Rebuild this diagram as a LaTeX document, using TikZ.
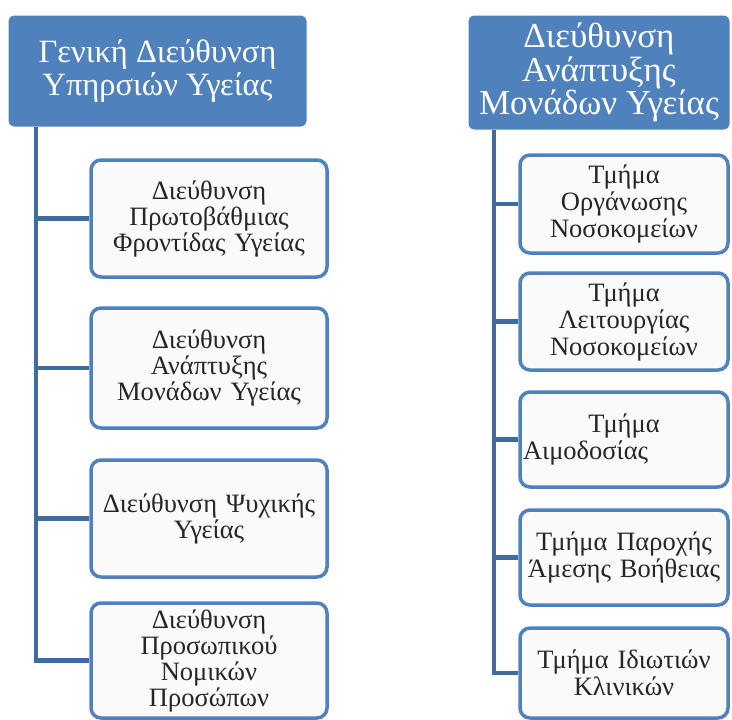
\documentclass[tikz,border=0pt]{standalone}
\usepackage{fontspec}
\setmainfont{Liberation Serif}
\definecolor{hdblue}{HTML}{4F81BD}
\definecolor{lnblue}{HTML}{3F6C9F}
\begin{document}
\begin{tikzpicture}[x=1pt,y=-1pt,
  head/.style={rectangle, rounded corners=6pt, fill=hdblue, draw=white, line width=1pt, text=white, align=center, inner sep=0pt},
  unit/.style={rectangle, rounded corners=10pt, fill=black!2, draw=hdblue, line width=3.5pt, align=center, inner sep=3pt, text=black!85},
  conn/.style={draw=lnblue, line width=4.5pt}]
\useasboundingbox (0,0) rectangle (732,720);
% left column
\node[head, minimum width=299pt, minimum height=112pt, font=\fontsize{32.5}{33}\selectfont] (lhead) at (157.5,71) {Γενική Διεύθυνση\\Υπηρσιών Υγείας};
\node[unit, minimum width=236pt, minimum height=117pt, text width=230pt, font=\fontsize{26.5}{26}\selectfont] (lu1) at (209,218.5) {Διεύθυνση\\Πρωτοβάθμιας\\Φροντίδας Υγείας};
\node[unit, minimum width=236pt, minimum height=120pt, text width=230pt, font=\fontsize{26.5}{26}\selectfont] (lu2) at (209,368) {Διεύθυνση\\Ανάπτυξης\\Μονάδων Υγείας};
\node[unit, minimum width=236pt, minimum height=117pt, text width=230pt, font=\fontsize{26.5}{26}\selectfont] (lu3) at (209,518.5) {Διεύθυνση Ψυχικής\\Υγείας};
\node[unit, minimum width=236pt, minimum height=115pt, text width=230pt, font=\fontsize{26.5}{26}\selectfont] (lu4) at (209,660.5) {Διεύθυνση\\Προσωπικού\\Νομικών\\Προσώπων};
\coordinate (ltop) at (36,127);
\draw[conn] (ltop) |- (lu4.west);
\foreach \i in {1,2,3}
  \draw[conn] (ltop |- lu\i.west) -- (lu\i.west);
% right column
\node[head, minimum width=262pt, minimum height=115pt, font=\fontsize{35}{30}\selectfont] (rhead) at (599,72.5) {Διεύθυνση\\Ανάπτυξης\\Μονάδων Υγείας};
\node[unit, minimum width=208pt, minimum height=98pt, text width=202pt, font=\fontsize{26.5}{27}\selectfont] (ru1) at (624,204) {Τμήμα\\Οργάνωσης\\Νοσοκομείων};
\node[unit, minimum width=208pt, minimum height=97pt, text width=202pt, font=\fontsize{26.5}{27}\selectfont] (ru2) at (624,321.5) {Τμήμα\\Λειτουργίας\\Νοσοκομείων};
\node[unit, minimum width=208pt, minimum height=95pt, text width=202pt, font=\fontsize{26.5}{27}\selectfont] (ru3) at (624,439.5) {Τμήμα\\Αιμοδοσίας\hskip0pt plus1fill\mbox{}};
\node[unit, minimum width=208pt, minimum height=95pt, text width=202pt, font=\fontsize{26.5}{27}\selectfont] (ru4) at (624,557.5) {Τμήμα Παροχής\\Άμεσης Βοήθειας};
\node[unit, minimum width=208pt, minimum height=90pt, text width=202pt, font=\fontsize{26.5}{27}\selectfont] (ru5) at (624,673) {Τμήμα Ιδιωτιών\\Κλινικών};
\coordinate (rtop) at (494,130);
\draw[conn] (rtop) |- (ru5.west);
\foreach \i in {1,2,3,4}
  \draw[conn] (rtop |- ru\i.west) -- (ru\i.west);
\end{tikzpicture}
\end{document}
